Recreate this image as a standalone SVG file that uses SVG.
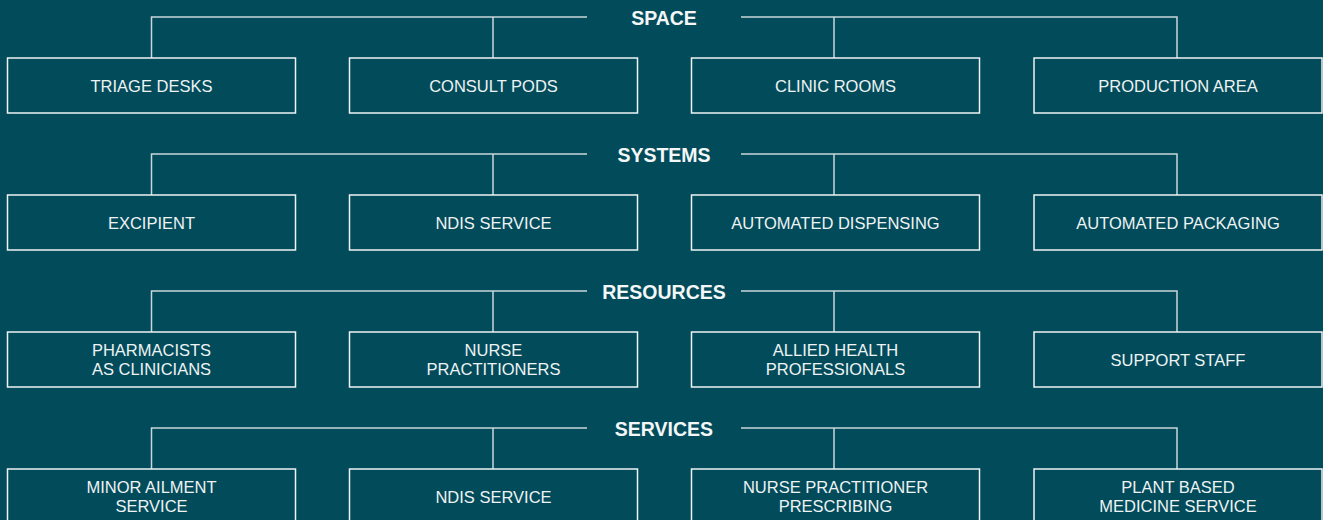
<svg xmlns="http://www.w3.org/2000/svg" width="1323" height="520" viewBox="0 0 1323 520">
<style>
.bg{fill:#024b5a}
.conn{fill:none;stroke:#c9d7db;stroke-width:1.5}
.box{fill:none;stroke:#eef3f4;stroke-width:1.5}
.hdr{font-family:"Liberation Sans",Arial,sans-serif;font-weight:bold;font-size:19.5px;fill:#f4f7f8;text-anchor:middle}
.txt{font-family:"Liberation Sans",Arial,sans-serif;font-size:16.5px;fill:#eef3f4;text-anchor:middle}
</style>
<rect class="bg" x="0" y="0" width="1323" height="520"/>
<g id="connectors">
<path class="conn" d="M151.5 58V17H587M741 17H1177V58M493 17V58M834 17V58"/>
<path class="conn" d="M151.5 195V154H587M741 154H1177V195M493 154V195M834 154V195"/>
<path class="conn" d="M151.5 332V291H587M741 291H1177V332M493 291V332M834 291V332"/>
<path class="conn" d="M151.5 469V428H587M741 428H1177V469M493 428V469M834 428V469"/>
</g>
<g id="hdr-space"><text class="hdr" x="664" y="25">SPACE</text></g>
<g id="hdr-systems"><text class="hdr" x="664" y="162">SYSTEMS</text></g>
<g id="hdr-resources"><text class="hdr" x="664" y="299">RESOURCES</text></g>
<g id="hdr-services"><text class="hdr" x="664" y="436">SERVICES</text></g>

<g id="triage-desks"><rect class="box" x="7.5" y="58" width="288" height="55"/><text class="txt" x="151.5" y="92">TRIAGE DESKS</text></g>
<g id="consult-pods"><rect class="box" x="349.5" y="58" width="288" height="55"/><text class="txt" x="493.5" y="92">CONSULT PODS</text></g>
<g id="clinic-rooms"><rect class="box" x="691.5" y="58" width="288" height="55"/><text class="txt" x="835.5" y="92">CLINIC ROOMS</text></g>
<g id="production-area"><rect class="box" x="1034" y="58" width="288" height="55"/><text class="txt" x="1178" y="92">PRODUCTION AREA</text></g>

<g id="excipient"><rect class="box" x="7.5" y="195" width="288" height="55"/><text class="txt" x="151.5" y="229">EXCIPIENT</text></g>
<g id="ndis-service-1"><rect class="box" x="349.5" y="195" width="288" height="55"/><text class="txt" x="493.5" y="229">NDIS SERVICE</text></g>
<g id="automated-dispensing"><rect class="box" x="691.5" y="195" width="288" height="55"/><text class="txt" x="835.5" y="229">AUTOMATED DISPENSING</text></g>
<g id="automated-packaging"><rect class="box" x="1034" y="195" width="288" height="55"/><text class="txt" x="1178" y="229">AUTOMATED PACKAGING</text></g>

<g id="pharmacists"><rect class="box" x="7.5" y="332" width="288" height="55"/><text class="txt" x="151.5" y="356">PHARMACISTS</text><text class="txt" x="151.5" y="375">AS CLINICIANS</text></g>
<g id="nurse-practitioners"><rect class="box" x="349.5" y="332" width="288" height="55"/><text class="txt" x="493.5" y="356">NURSE</text><text class="txt" x="493.5" y="375">PRACTITIONERS</text></g>
<g id="allied-health"><rect class="box" x="691.5" y="332" width="288" height="55"/><text class="txt" x="835.5" y="356">ALLIED HEALTH</text><text class="txt" x="835.5" y="375">PROFESSIONALS</text></g>
<g id="support-staff"><rect class="box" x="1034" y="332" width="288" height="55"/><text class="txt" x="1178" y="366">SUPPORT STAFF</text></g>

<g id="minor-ailment"><rect class="box" x="7.5" y="469" width="288" height="55"/><text class="txt" x="151.5" y="493">MINOR AILMENT</text><text class="txt" x="151.5" y="512">SERVICE</text></g>
<g id="ndis-service-2"><rect class="box" x="349.5" y="469" width="288" height="55"/><text class="txt" x="493.5" y="503">NDIS SERVICE</text></g>
<g id="np-prescribing"><rect class="box" x="691.5" y="469" width="288" height="55"/><text class="txt" x="835.5" y="493">NURSE PRACTITIONER</text><text class="txt" x="835.5" y="512">PRESCRIBING</text></g>
<g id="plant-based"><rect class="box" x="1034" y="469" width="288" height="55"/><text class="txt" x="1178" y="493">PLANT BASED</text><text class="txt" x="1178" y="512">MEDICINE SERVICE</text></g>
</svg>
